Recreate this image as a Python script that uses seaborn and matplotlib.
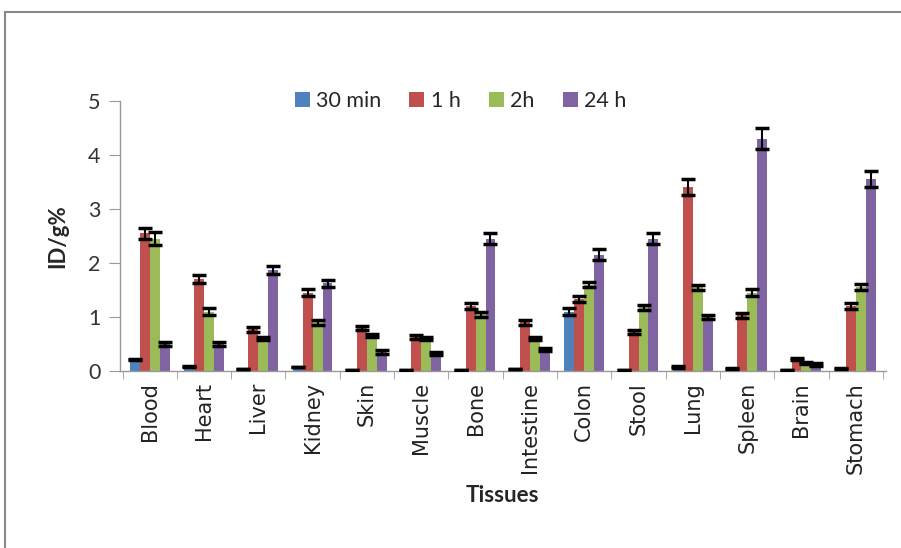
import matplotlib
matplotlib.use("Agg")
import matplotlib.pyplot as plt
import numpy as np
import pandas as pd
import seaborn as sns
from matplotlib.patches import Rectangle


TISSUES = ["Blood", "Heart", "Liver", "Kidney", "Skin", "Muscle", "Bone", "Intestine",
           "Colon", "Stool", "Lung", "Spleen", "Brain", "Stomach"]
TIMES = ["30 min", "1 h", "2h", "24 h"]
COLORS = ["#4F81BD", "#C0504D", "#9BBB59", "#8064A2"]

MIN30 = [0.22, 0.08, 0.04, 0.08, 0.02, 0.02, 0.02, 0.04, 1.10, 0.02, 0.08, 0.05, 0.02, 0.05]
H1 = [2.55, 1.70, 0.77, 1.45, 0.80, 0.63, 1.20, 0.90, 1.33, 0.72, 3.40, 1.03, 0.22, 1.20]
H2 = [2.45, 1.10, 0.60, 0.90, 0.65, 0.60, 1.05, 0.60, 1.60, 1.18, 1.55, 1.45, 0.15, 1.55]
H24 = [0.50, 0.50, 1.87, 1.62, 0.35, 0.33, 2.45, 0.40, 2.15, 2.45, 1.00, 4.30, 0.12, 3.55]

ERR_MIN30 = [0.01, 0.01, 0.0, 0.0, 0.0, 0.0, 0.0, 0.0, 0.06, 0.0, 0.02, 0.01, 0.0, 0.01]
ERR_H1 = [0.10, 0.08, 0.04, 0.07, 0.04, 0.03, 0.05, 0.04, 0.06, 0.04, 0.15, 0.05, 0.02, 0.06]
ERR_H2 = [0.12, 0.06, 0.03, 0.04, 0.03, 0.03, 0.05, 0.03, 0.05, 0.05, 0.05, 0.06, 0.02, 0.06]
ERR_H24 = [0.03, 0.03, 0.07, 0.07, 0.03, 0.03, 0.10, 0.03, 0.10, 0.10, 0.04, 0.20, 0.02, 0.15]


def build_frame() -> pd.DataFrame:
    rows = []
    for time, values, errors in zip(TIMES, [MIN30, H1, H2, H24], [ERR_MIN30, ERR_H1, ERR_H2, ERR_H24]):
        for tissue, value, err in zip(TISSUES, values, errors):
            rows.append({"tissue": tissue, "time": time, "value": value, "err": err})
    return pd.DataFrame(rows)


def main() -> None:
    frame = build_frame()
    sns.set_style("white")
    plt.rcParams["font.family"] = ["DejaVu Sans"]

    fig = plt.figure(figsize=(9.01, 5.48), dpi=100)
    ax = fig.add_axes([0.133, 0.323, 0.85, 0.493])

    sns.barplot(data=frame, x="tissue", y="value", hue="time", palette=COLORS,
                width=0.73, errorbar=None, ax=ax, saturation=1, linewidth=0)

    # error bars drawn on top of each bar, in hue order
    for container, time in zip(ax.containers, TIMES):
        sub = frame[frame["time"] == time]
        xs = [patch.get_x() + patch.get_width() / 2 for patch in container]
        ax.errorbar(xs, sub["value"].values, yerr=sub["err"].values, fmt="none",
                    ecolor="black", elinewidth=1.5, capsize=5, capthick=2.5, zorder=5)

    ax.set_ylim(0, 5)
    ax.set_xlim(-0.55, len(TISSUES) - 0.45)
    ax.set_yticks([0, 1, 2, 3, 4, 5])
    ax.set_yticklabels(["0", "1", "2", "3", "4", "5"], family="Lato", fontsize=15.5, color="#333333")
    ax.tick_params(axis="y", length=8, color="#999999", direction="out", left=True, pad=6)
    ax.set_xticks(range(len(TISSUES)))
    ax.set_xticklabels(TISSUES, rotation=90, fontsize=15, color="#222222")
    ax.tick_params(axis="x", length=0, pad=8)
    ax.set_xticks(np.arange(-0.5, len(TISSUES), 1.0), minor=True)
    ax.tick_params(axis="x", which="minor", length=6, color="#999999", bottom=True)

    for side in ["top", "right"]:
        ax.spines[side].set_visible(False)
    for side in ["left", "bottom"]:
        ax.spines[side].set_color("#999999")
        ax.spines[side].set_linewidth(1)

    ax.set_xlabel("Tissues", fontsize=16, fontweight="bold", family="Lato", labelpad=8)
    ax.set_ylabel("ID/g%", fontsize=16, fontweight="bold", family="Lato", labelpad=14)

    handles, labels = ax.get_legend_handles_labels()
    ax.legend(handles, labels, loc="center", bbox_to_anchor=(0.445, 1.0), ncol=4,
              frameon=False, handlelength=0.7, handleheight=0.7,
              handletextpad=0.3, columnspacing=1.3, prop={"family": "Lato", "size": 15.5})

    fig.patches.append(Rectangle((0.006, -0.05), 1.2, 1.028, transform=fig.transFigure,
                                 fill=False, edgecolor="#888888", linewidth=1.5))

    fig.savefig("out.png", dpi=100)
    plt.close(fig)


if __name__ == "__main__":
    main()
